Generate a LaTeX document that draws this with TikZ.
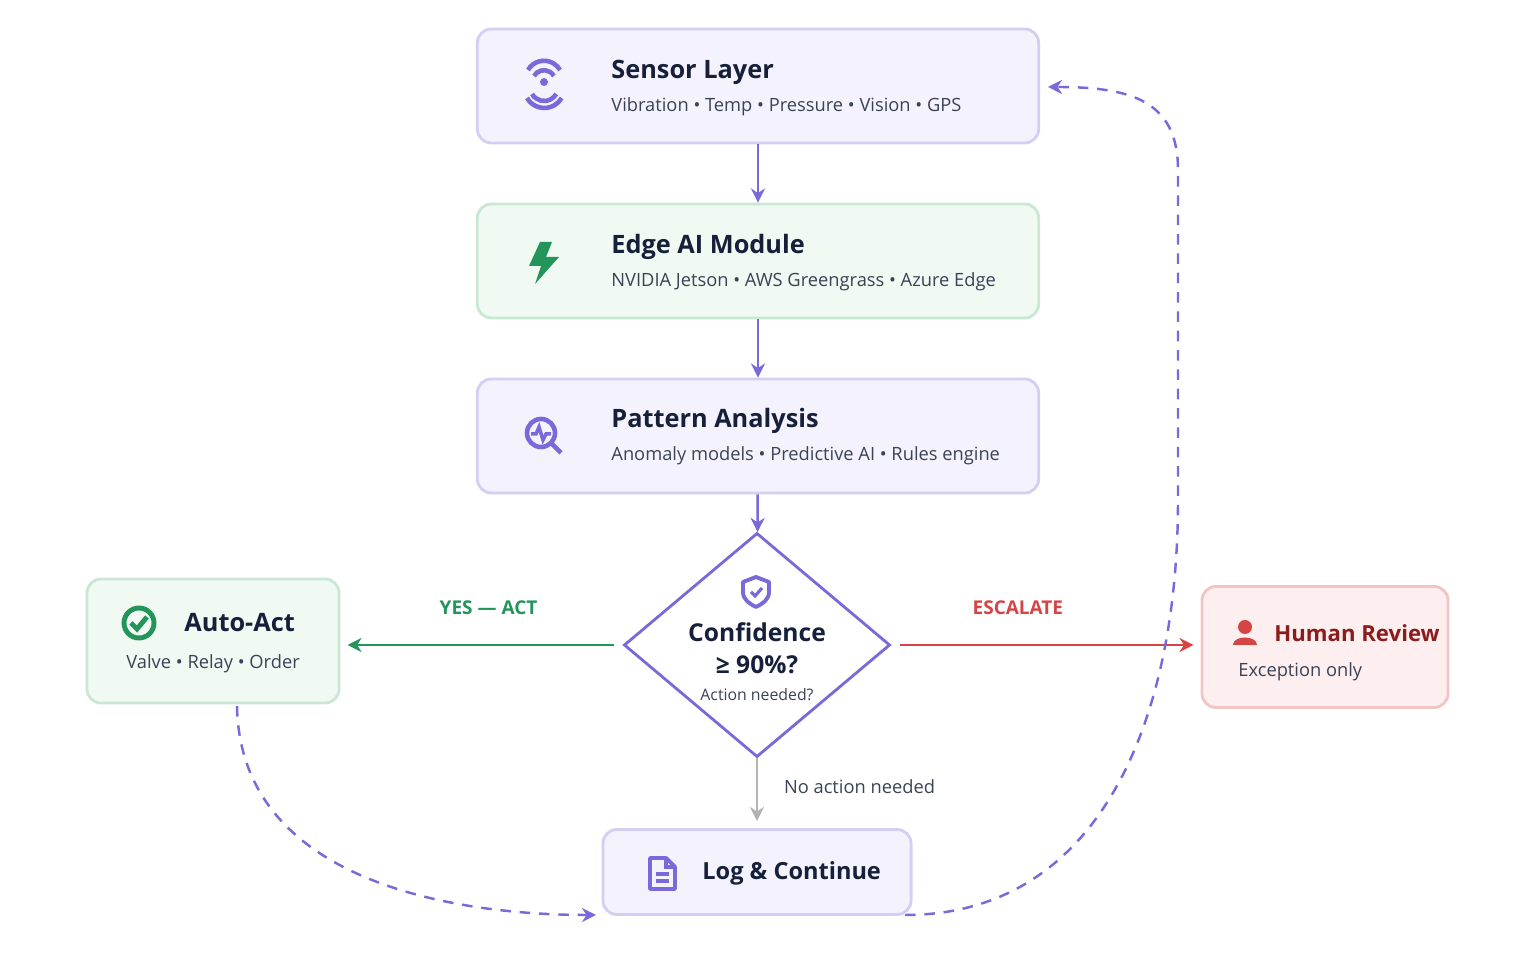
\documentclass[tikz,border=0pt]{standalone}
\usepackage{fontspec}
\setmainfont{Open Sans}
\usetikzlibrary{arrows.meta,positioning,shapes.geometric}

\definecolor{purp}{HTML}{7B68D9}
\definecolor{purpfill}{HTML}{F4F3FD}
\definecolor{purpline}{HTML}{D3CEF2}
\definecolor{grnfill}{HTML}{F0FAF3}
\definecolor{grnline}{HTML}{C9E8D3}
\definecolor{grn}{HTML}{23955A}
\definecolor{redfill}{HTML}{FDEFEF}
\definecolor{redline}{HTML}{F2C4C4}
\definecolor{redd}{HTML}{D64545}
\definecolor{darkred}{HTML}{8A1C1C}
\definecolor{ink}{HTML}{16203A}
\definecolor{graytxt}{HTML}{3A4255}

\tikzset{
  box/.style={draw=purpline, fill=purpfill, rounded corners=4pt, line width=0.8pt, minimum width=5.61cm, minimum height=1.14cm},
  gbox/.style={box, draw=grnline, fill=grnfill},
  rbox/.style={box, draw=redline, fill=redfill},
  title/.style={font=\fontsize{7.2}{9}\selectfont\bfseries, text=ink, anchor=west},
  sub/.style={font=\fontsize{5.2}{7}\selectfont, text=graytxt, anchor=west},
  flow/.style={-{Stealth[length=4pt,width=4pt]}, line width=0.7pt, draw=purp},
  loop/.style={-{Stealth[length=4pt,width=4pt]}, line width=0.7pt, draw=purp, dashed, dash pattern=on 3pt off 2.5pt},
  lab/.style={font=\fontsize{5.4}{7}\selectfont\bfseries}
}

\begin{document}
\begin{tikzpicture}[x=0.01cm, y=-0.01cm]
 \useasboundingbox (0,0) rectangle (1536,977);

 % main column
 \node[box] (sensor) at (758,86) {};
 \node[gbox] (edge) at (758,261) {};
 \node[box] (pattern) at (758,436) {};
 \node[diamond, draw=purp, fill=white, line width=0.8pt, minimum width=2.66cm, minimum height=2.24cm, inner sep=0pt] (decide) at (757,645) {};
 \node[gbox, minimum width=2.52cm, minimum height=1.24cm] (act) at (213,641) {};
 \node[rbox, minimum width=2.46cm, minimum height=1.21cm] (human) at (1325,647) {};
 \node[box, minimum width=3.08cm, minimum height=0.85cm] (log) at (757,872) {};

 % texts
 \node[title] (sensorT) at (599,72) {Sensor Layer};
 \node[sub] (sensorS) at (599,107) {Vibration • Temp • Pressure • Vision • GPS};
 \node[title] (edgeT) at (599,247) {Edge AI Module};
 \node[sub] (edgeS) at (599,282) {NVIDIA Jetson • AWS Greengrass • Azure Edge};
 \node[title] (patT) at (599,421) {Pattern Analysis};
 \node[sub] (patS) at (599,456) {Anomaly models • Predictive AI • Rules engine};
 \node[font=\fontsize{7}{9}\selectfont\bfseries, text=ink, align=center] (decT) at (757,648) {Confidence\\[0pt]≥ 90\%?};
 \node[font=\fontsize{4.5}{6}\selectfont, text=graytxt] (decS) at (757,695) {Action needed?};
 \node[title] (actT) at (172,623) {Auto-Act};
 \node[sub] (actS) at (114,664) {Valve • Relay • Order};
 \node[title, text=darkred, font=\fontsize{6.3}{9}\selectfont\bfseries] (humT) at (1262,633) {Human Review};
 \node[sub] (humS) at (1226,672) {Exception only};
 \node[title, font=\fontsize{6.7}{9}\selectfont\bfseries] (logT) at (690,873) {Log \& Continue};

 % icons
 \fill[purp] (544,82) circle (4);
 \draw[purp, line width=1.3pt] (534,76) arc (210:330:11.5) (528,70) arc (210:330:18.5);
 \draw[purp, line width=1.3pt] (532,94) arc (150:30:14) (527,98) arc (150:30:20);
 \fill[grn] (540,242) -- (529,266) -- (541,266) -- (535,284) -- (559,257) -- (546,257) -- (552,242) -- cycle;
 \draw[purp, line width=1.3pt] (541,433) circle (14) (551,443) -- (561,453);
 \draw[purp, line width=1pt] (531,434) -- (536,434) -- (539,427) -- (543,440) -- (546,434) -- (551,434);
 \draw[purp, line width=1.1pt, line join=round] (756,577) -- (769,582) -- (769,592) .. controls (769,600) and (762,604) .. (756,607) .. controls (750,604) and (743,600) .. (743,592) -- (743,582) -- cycle;
 \draw[purp, line width=0.9pt] (751,592) -- (755,596) -- (762,588);
 \draw[grn, line width=1.4pt] (139,623) circle (15);
 \draw[grn, line width=1.4pt] (131,623) -- (137,629) -- (147,617);
 \fill[redd] (1245,627) circle (7);
 \fill[redd] (1233,645) .. controls (1233,635) and (1257,635) .. (1257,645) -- cycle;
 \draw[purp, line width=1.1pt, line join=round] (650,858) -- (666,858) -- (675,867) -- (675,889) -- (650,889) -- cycle;
 \draw[purp, line width=1pt] (666,858) -- (666,867) -- (675,867) (656,874) -- (669,874) (656,881) -- (669,881);

 % connectors
 \draw[flow] (sensor) -- (edge);
 \draw[flow] (edge) -- (pattern);
 \draw[flow] (pattern) -- (decide);
 \draw[-{Stealth[length=4pt,width=4pt]}, line width=0.7pt, draw=grn, shorten <=2.5pt, shorten >=2pt] (decide.west) -- (decide.west -| act.east)
   node[lab, text=grn, midway, above=5pt, xshift=2pt] {YES — ACT};
 \draw[-{Stealth[length=4pt,width=4pt]}, line width=0.7pt, draw=redd, shorten <=2.5pt, shorten >=2pt] (decide.east) -- (decide.east -| human.west)
   node[lab, text=redd, midway, above=5pt, xshift=-8pt] {ESCALATE};
 \draw[-{Stealth[length=4pt,width=4pt]}, line width=0.7pt, draw=gray!60, shorten >=2pt] (decide.south) -- (log.north)
   node[pos=0.4, right=4pt, font=\fontsize{5.2}{7}\selectfont, text=graytxt] {No action needed};
 \coordinate (actout) at (237,706);
 \coordinate (login) at (596,915);
 \coordinate (logout) at (905,915);
 \coordinate (sensin) at (1048,87);
 \draw[loop] (actout) .. controls (240,880) and (450,915) .. (login);
 \draw[loop] (logout) .. controls (1100,915) and (1178,720) .. (1178,500) -- (1178,170) .. controls (1178,100) and (1130,87) .. (sensin);
\end{tikzpicture}
\end{document}
